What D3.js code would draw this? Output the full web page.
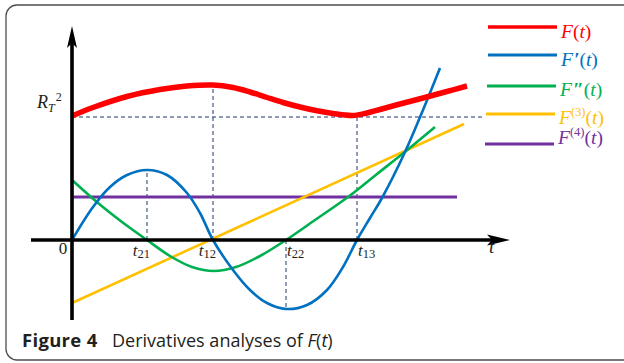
<!DOCTYPE html>
<html>
<head>
<meta charset="utf-8">
<script src="https://cdn.jsdelivr.net/npm/d3@7"></script>
<style>
  html, body { margin: 0; padding: 0; background: #fff; }
  svg { display: block; }
</style>
</head>
<body>
<svg id="chart" width="624" height="363"></svg>
<script>
// ---- Curve samples (t, value) for F(t) and its derivatives ----
const curveF = [
  [0, 12.4], [2.1, 13.25], [5.5, 14.35], [8.8, 15.05], [11.5, 15.4], [14.1, 15.5],
  [16.1, 15.25], [17.8, 14.8], [19.5, 14.25], [21.1, 13.75], [22.8, 13.3], [24.5, 12.92],
  [26.1, 12.65], [28.1, 12.45], [29.5, 12.7], [30.8, 13.05], [32.8, 13.6],
  [35.1, 14.2], [37.3, 14.8], [39.5, 15.4]
];
const curveF1 = [
  [0, 0], [2.1, 3.3], [3.8, 5.3], [5.5, 6.5], [7.5, 7.0], [9.5, 6.5], [11.5, 4.7],
  [12.8, 2.7], [14.1, 0], [16.1, -3.0], [17.8, -5.0], [19.5, -6.3], [21.4, -6.9],
  [23.5, -6.5], [25.5, -5.0], [27.1, -2.7], [28.5, 0], [29.8, 2.2], [31.0, 4.2],
  [33.3, 8.8], [35.1, 13.0], [36.8, 17.2]
];
const curveF2 = [
  [0, 6.0], [2.6, 3.7], [5.0, 1.8], [7.5, 0], [9.8, -1.6], [12.0, -2.7], [14.2, -3.1],
  [16.4, -2.7], [18.8, -1.6], [21.4, 0], [24.3, 2.0], [27.6, 4.3], [30.5, 6.6],
  [33.4, 8.9], [36.3, 11.3]
];
const curveF3 = [[0, -6.3], [39.2, 11.6]];
const curveF4 = [[0, 4.3], [38.5, 4.3]];

// Level R_T^2 and the marked points on the t axis
const levelR2 = 12.3;
const levelEnd = 41;
const tickNames = ["21", "12", "22", "13"];
const tickValues = [7.5, 14.1, 21.4, 28.5];
const tickHeights = [7.0, 15.5, -6.9, 12.45];

const seriesNames = ["F", "F1", "F2", "F3", "F4"];
const seriesColors = ["#ff0000", "#0070c0", "#00b050", "#ffc000", "#7030a0"];

// ---- Layout ----
const svg = d3.select("#chart");
const x = d3.scaleLinear().domain([0, 44]).range([72, 512]);
const y = d3.scaleLinear().domain([-8, 21]).range([320, 30]);
const serif = "'Liberation Serif', 'Times New Roman', serif";

svg.append("rect").attr("width", 624).attr("height", 363).attr("fill", "#fff");

// rounded frame around the figure
svg.append("rect")
  .attr("x", 6).attr("y", 5).attr("width", 640).attr("height", 355)
  .attr("rx", 11).attr("ry", 11)
  .attr("fill", "none").attr("stroke", "#4d4d4d").attr("stroke-width", 1.3);

// ---- Dashed guides ----
const guide = svg.append("g")
  .attr("stroke", "#1f3868").attr("stroke-width", 1)
  .attr("stroke-dasharray", "4,3").attr("fill", "none");
guide.append("line")
  .attr("x1", x(0)).attr("x2", x(levelEnd))
  .attr("y1", y(levelR2)).attr("y2", y(levelR2));
tickValues.forEach((t, i) => {
  guide.append("line")
    .attr("x1", x(t)).attr("x2", x(t))
    .attr("y1", y(0)).attr("y2", y(tickHeights[i]));
});

// ---- Curves ----
const line = d3.line().x(d => x(d[0])).y(d => y(d[1])).curve(d3.curveCatmullRom.alpha(0.5));
const straight = d3.line().x(d => x(d[0])).y(d => y(d[1]));

const plot = svg.append("g").attr("fill", "none").attr("stroke-linecap", "butt");
plot.append("path").attr("d", straight(curveF4))
  .attr("stroke", seriesColors[4]).attr("stroke-width", 3);
plot.append("path").attr("d", straight(curveF3))
  .attr("stroke", seriesColors[3]).attr("stroke-width", 2.6);
plot.append("path").attr("d", line(curveF2))
  .attr("stroke", seriesColors[2]).attr("stroke-width", 2.6);
plot.append("path").attr("d", line(curveF1))
  .attr("stroke", seriesColors[1]).attr("stroke-width", 2.6);
plot.append("path").attr("d", line(curveF))
  .attr("stroke", seriesColors[0]).attr("stroke-width", 5.5)
  .attr("stroke-linejoin", "round");

// ---- Axes with arrowheads ----
const axes = svg.append("g");
const x0 = x(0), y0 = y(0);
const xTip = x(43.8), yTip = y(21.4);
axes.append("line")
  .attr("x1", x(-4.1)).attr("x2", xTip - 10)
  .attr("y1", y0).attr("y2", y0)
  .attr("stroke", "#000").attr("stroke-width", 3.6);
axes.append("line")
  .attr("x1", x0).attr("x2", x0)
  .attr("y1", y(-8)).attr("y2", yTip + 10)
  .attr("stroke", "#000").attr("stroke-width", 3.6);
axes.append("path")
  .attr("d", `M${xTip},${y0} L${xTip - 23},${y0 - 5.5} L${xTip - 18},${y0} L${xTip - 23},${y0 + 5.5} Z`)
  .attr("fill", "#000");
axes.append("path")
  .attr("d", `M${x0},${yTip} L${x0 - 5},${yTip + 22} L${x0},${yTip + 17} L${x0 + 5},${yTip + 22} Z`)
  .attr("fill", "#000");

// ---- Axis labels ----
const lab = svg.append("g").attr("font-family", serif).attr("fill", "#231f20");
lab.append("text").attr("x", x0 - 9).attr("y", y0 + 14)
  .attr("text-anchor", "middle").attr("font-size", 17).text("0");
lab.append("text").attr("x", x(41.7)).attr("y", y0 + 13)
  .attr("font-size", 19).attr("font-style", "italic").text("t");

tickValues.forEach((t, i) => {
  const left = i < 2;
  const tx = lab.append("text")
    .attr("x", left ? x(t) + 3 : x(t) + 1)
    .attr("y", y0 + 16)
    .attr("text-anchor", left ? "end" : "start")
    .attr("font-size", 17);
  tx.append("tspan").attr("font-style", "italic").text("t");
  tx.append("tspan").attr("font-size", 12.5).attr("dy", 2).text(tickNames[i]);
});

// R_T^2 beside the level line
const r2 = lab.append("text").attr("x", 37).attr("y", y(levelR2) - 9).attr("font-size", 18);
r2.append("tspan").attr("font-style", "italic").text("R");
r2.append("tspan").attr("font-style", "italic").attr("font-size", 12).attr("dy", 4).text("T");
r2.append("tspan").attr("font-size", 12).attr("dy", -11).attr("dx", 1).text("2");

// ---- Legend ----
const legendRows = [
  { mark: "", sup: "" },
  { mark: "\u2032", sup: "" },
  { mark: "\u2033", sup: "" },
  { mark: "", sup: "(3)" },
  { mark: "", sup: "(4)" }
];
const legendLineY = [27, 55, 86, 114, 144];
const legendTextY = [38, 66, 96, 124, 144];
const legendX0 = [488, 488, 487, 486, 485];
const legend = svg.append("g").attr("font-family", serif);
seriesNames.forEach((name, i) => {
  legend.append("line")
    .attr("x1", legendX0[i]).attr("x2", legendX0[i] + 69)
    .attr("y1", legendLineY[i]).attr("y2", legendLineY[i])
    .attr("stroke", seriesColors[i]).attr("stroke-width", i === 0 ? 3.4 : 2.8);
  const tx = legend.append("text")
    .attr("x", legendX0[i] + 73).attr("y", legendTextY[i])
    .attr("font-size", 19.5).attr("fill", seriesColors[i]);
  tx.append("tspan").attr("font-style", "italic").text("F");
  if (legendRows[i].mark) {
    tx.append("tspan").attr("font-style", "italic").attr("font-weight", 700)
      .attr("dx", 1).text(legendRows[i].mark);
  }
  if (legendRows[i].sup) {
    tx.append("tspan").attr("font-size", 12.5).attr("dy", -8).text(legendRows[i].sup);
    tx.append("tspan").attr("dy", 8).text("(");
  } else {
    tx.append("tspan").text("(");
  }
  tx.append("tspan").attr("font-style", "italic").text("t");
  tx.append("tspan").text(")");
});

// ---- Caption ----
const capFont = "'Open Sans', 'Noto Sans', sans-serif";
const cap = svg.append("g").attr("font-family", capFont).attr("fill", "#231f20");
cap.append("text").attr("x", 22).attr("y", 347)
  .attr("font-size", 18.5).attr("font-weight", 700).attr("letter-spacing", 0.3)
  .text("Figure 4");
const capText = cap.append("text").attr("x", 112).attr("y", 347).attr("font-size", 18);
capText.append("tspan").text("Derivatives analyses of ");
capText.append("tspan").attr("font-style", "italic").text("F");
capText.append("tspan").text("(");
capText.append("tspan").attr("font-style", "italic").text("t");
capText.append("tspan").text(")");
</script>
</body>
</html>
